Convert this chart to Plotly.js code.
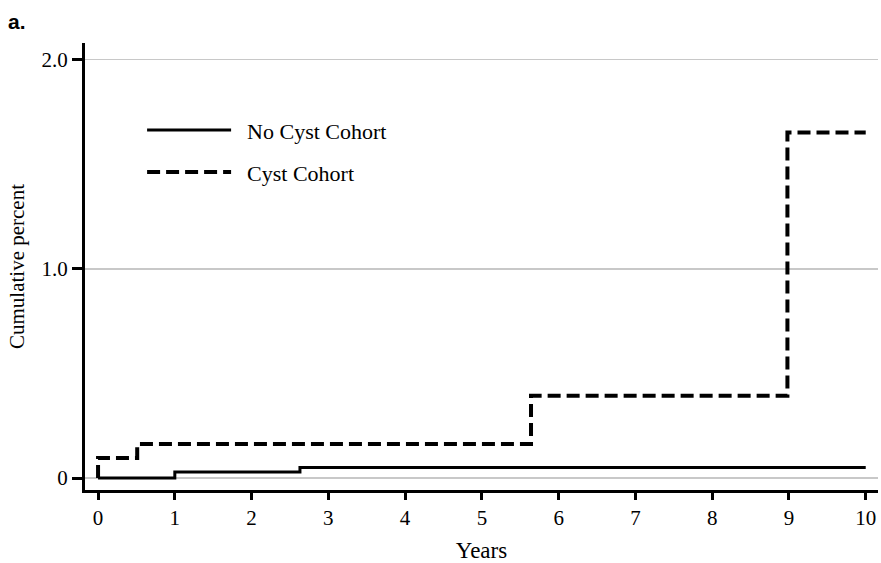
<!DOCTYPE html>
<html>
<head>
<meta charset="utf-8">
<script src="https://cdn.plot.ly/plotly-3.0.1.min.js"></script>
<style>html,body{margin:0;padding:0;background:#fff;}#chart{width:881px;height:563px;}</style>
</head>
<body>
<div id="chart"></div>
<script>
var noCystYears = [0, 1, 2.63, 10];
var noCystPct = [0, 0.029, 0.05, 0.05];
var cystYears = [0, 0, 0.51, 5.64, 8.98, 10];
var cystPct = [0, 0.096, 0.163, 0.394, 1.652, 1.652];
var xTicks = [0,1,2,3,4,5,6,7,8,9,10];
var yTickVals = [0, 1, 2];
var yTickText = ["0", "1.0", "2.0"];
var seriesNames = ["No Cyst Cohort", "Cyst Cohort"];

var serif = "Liberation Serif, Times New Roman, serif";
var pad = "\u00a0\u00a0";

var traces = [
  {x: noCystYears, y: noCystPct, mode: "lines", name: pad + seriesNames[0], legend: "legend",
   line: {shape: "hv", color: "#000", width: 3}},
  {x: cystYears, y: cystPct, mode: "lines", name: pad + seriesNames[1], legend: "legend2",
   line: {shape: "hv", color: "#000", width: 4, dash: "13px,6px"}}
];

var legStyle = function(y) {
  return {x: 0.072, y: y, xanchor: "left", yanchor: "middle",
          bgcolor: "rgba(0,0,0,0)", font: {family: serif, size: 22, color: "#000"},
          itemwidth: 84};
};

var layout = {
  width: 881, height: 563,
  margin: {l: 85, r: 3, t: 43, b: 73},
  paper_bgcolor: "#fff", plot_bgcolor: "#fff",
  font: {family: serif, color: "#000", size: 20},
  showlegend: true,
  legend: legStyle(0.805),
  legend2: legStyle(0.711),
  xaxis: {range: [-0.17, 10.16], tickvals: xTicks, ticks: "outside", ticklen: 7,
          tickwidth: 3, tickcolor: "#000", showline: true, linewidth: 3, linecolor: "#000",
          showgrid: false, zeroline: false, tickfont: {family: serif, size: 21},
          title: {text: "Years", font: {family: serif, size: 23}, standoff: 14}},
  yaxis: {range: [-0.057, 2.08], tickvals: yTickVals, ticktext: yTickText,
          ticks: "outside", ticklen: 10, tickwidth: 3, tickcolor: "#000",
          showline: true, linewidth: 3, linecolor: "#000",
          showgrid: true, gridcolor: "#c8c8c8", gridwidth: 1.5, zeroline: false,
          tickfont: {family: serif, size: 21},
          title: {text: "Cumulative percent", font: {family: serif, size: 21}, standoff: 12}},
  annotations: [
    {text: "<b>a.</b>", xref: "paper", yref: "paper", x: -0.1, y: 1.047, xanchor: "left", yanchor: "middle",
     showarrow: false, font: {family: "Liberation Sans, Arial, sans-serif", size: 21, color: "#000"}}
  ]
};

Plotly.newPlot("chart", traces, layout, {displayModeBar: false, staticPlot: true});
</script>
</body>
</html>
